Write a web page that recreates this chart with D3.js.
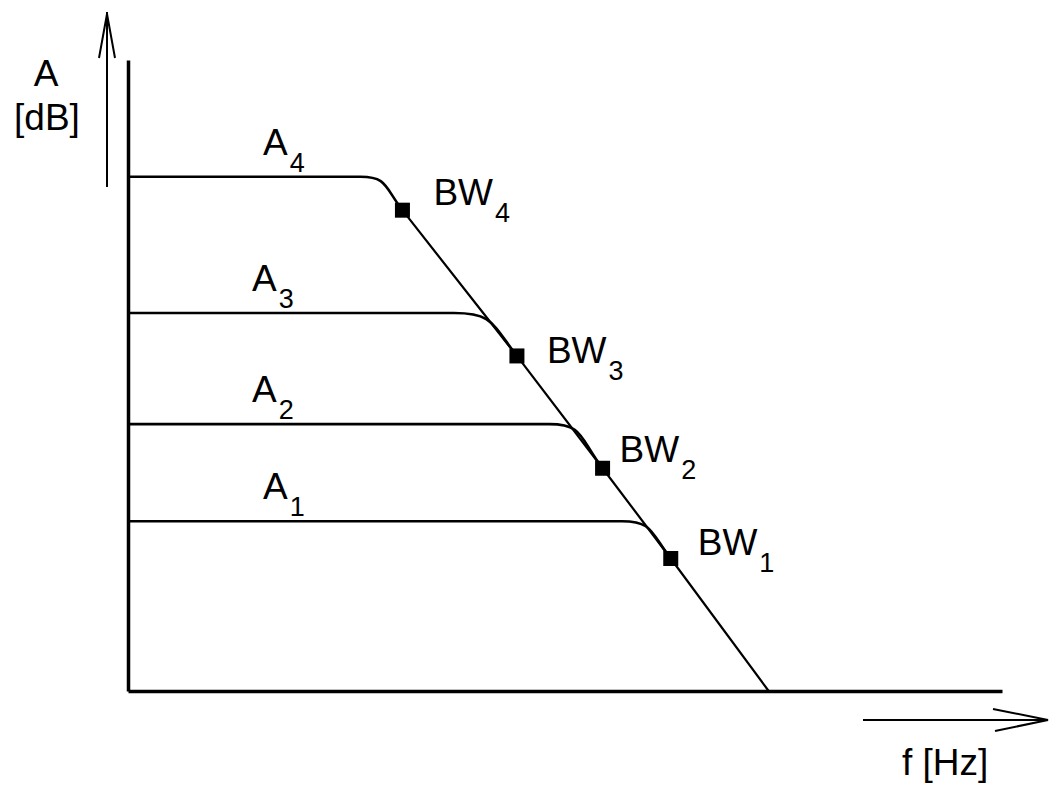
<!DOCTYPE html>
<html>
<head>
<meta charset="utf-8">
<script src="https://cdn.jsdelivr.net/npm/d3@7"></script>
<style>
  html, body { margin: 0; padding: 0; background: #fff; }
  text { font-family: "Liberation Sans", Arial, sans-serif; fill: #000; }
</style>
</head>
<body>
<div id="chart"></div>
<script>
// Curve data (relative units, 0..100 on both axes, no ticks in the original)
const curveIds = ["1", "2", "3", "4"];
const passbandGain = [26.9, 42.3, 59.9, 81.5];   // A1..A4 flat level
const kneeFreq = [56.5, 48.2, 37.3, 26.6];       // where the flat part starts to bend
const bandwidthFreq = [62.1, 54.3, 44.5, 31.4];  // BW1..BW4
const bandwidthGain = [21.0, 35.3, 53.1, 76.2];  // gain at the BW point
const rolloffEndFreq = 73.3;                     // roll-off meets the f axis

// label placement (pixels, layout only)
const aLabelX = [263, 252, 252, 263];
const bwLabelDx = [27, 17, 30, 31];
const bwLabelDy = [-3, -6, 7, -5];

const width = 1050, height = 787;

const svg = d3.select("#chart").append("svg")
    .attr("width", width)
    .attr("height", height);

const x = d3.scaleLinear().domain([0, 100]).range([128, 1002]);
const y = d3.scaleLinear().domain([0, 100]).range([691, 60]);

// Axes (just the lines, no ticks)
svg.append("g")
    .attr("transform", `translate(0,${y(0)})`)
    .call(d3.axisBottom(x).ticks(0).tickSizeOuter(0))
    .call(g => g.select(".domain").attr("stroke", "#000").attr("stroke-width", 3.5));

svg.append("g")
    .attr("transform", `translate(${x(0)},0)`)
    .call(d3.axisLeft(y).ticks(0).tickSizeOuter(0))
    .call(g => g.select(".domain").attr("stroke", "#000").attr("stroke-width", 3.5));

// Arrows beside the axes
const arrows = svg.append("g").attr("stroke", "#000").attr("fill", "none").attr("stroke-width", 2);
arrows.append("line").attr("x1", 107).attr("y1", 187).attr("x2", 107).attr("y2", 12);
arrows.append("path").attr("d", "M99,58 L107,14 L115,58");
arrows.append("line").attr("x1", 863).attr("y1", 720).attr("x2", 1048).attr("y2", 720);
arrows.append("path").attr("d", "M993,709 L1048,720 L995,731");

// Roll-off line through the BW points down to the f axis
const rolloff = d3.range(curveIds.length).map(i => [bandwidthFreq[i], bandwidthGain[i]])
    .sort((a, b) => a[0] - b[0]);
rolloff.push([rolloffEndFreq, 0]);

svg.append("path")
    .datum(rolloff)
    .attr("fill", "none")
    .attr("stroke", "#000")
    .attr("stroke-width", 2.2)
    .attr("d", d3.line().x(d => x(d[0])).y(d => y(d[1])));

// direction of the roll-off (unit vector pointing up-left)
const rollTop = rolloff[0], rollBot = rolloff[rolloff.length - 1];
let ux = x(rollTop[0]) - x(rollBot[0]), uy = y(rollTop[1]) - y(rollBot[1]);
const ulen = Math.hypot(ux, uy);
ux /= ulen; uy /= ulen;

// Response curves: flat part, then a smooth bend into the roll-off
curveIds.forEach((id, i) => {
    const p = d3.path();
    const ay = y(passbandGain[i]);
    const kx = x(kneeFreq[i]);
    const bx = x(bandwidthFreq[i]), by = y(bandwidthGain[i]);
    const L = 0.55 * Math.hypot(bx - kx, by - ay);
    p.moveTo(x(0), ay);
    p.lineTo(kx, ay);
    p.bezierCurveTo(kx + L * 0.9, ay, bx + ux * L, by + uy * L, bx, by);
    svg.append("path")
        .attr("d", p.toString())
        .attr("fill", "none")
        .attr("stroke", "#000")
        .attr("stroke-width", 2.6);
});

// BW markers
svg.append("g")
    .selectAll("rect")
    .data(curveIds)
    .join("rect")
    .attr("x", (d, i) => x(bandwidthFreq[i]) - 7.5)
    .attr("y", (d, i) => y(bandwidthGain[i]) - 7.5)
    .attr("width", 15)
    .attr("height", 15)
    .attr("fill", "#000");

// A labels
const aLabels = svg.append("g").selectAll("text")
    .data(curveIds)
    .join("text")
    .attr("x", (d, i) => aLabelX[i])
    .attr("y", (d, i) => y(passbandGain[i]) - 22)
    .style("font-size", "37px");
aLabels.append("tspan").text("A");
aLabels.append("tspan").attr("dx", 2).attr("dy", 17).style("font-size", "27px").text(d => d);

// BW labels
const bwLabels = svg.append("g").selectAll("text")
    .data(curveIds)
    .join("text")
    .attr("x", (d, i) => x(bandwidthFreq[i]) + bwLabelDx[i])
    .attr("y", (d, i) => y(bandwidthGain[i]) + bwLabelDy[i])
    .style("font-size", "37px");
bwLabels.append("tspan").text("BW");
bwLabels.append("tspan").attr("dx", 2).attr("dy", 17).style("font-size", "27px").text(d => d);

// Axis titles
svg.append("text").attr("x", 46).attr("y", 86).attr("text-anchor", "middle")
    .style("font-size", "37px").text("A");
svg.append("text").attr("x", 47).attr("y", 130).attr("text-anchor", "middle")
    .style("font-size", "37px").text("[dB]");
svg.append("text").attr("x", 902).attr("y", 775)
    .style("font-size", "37px").text("f [Hz]");
</script>
</body>
</html>
